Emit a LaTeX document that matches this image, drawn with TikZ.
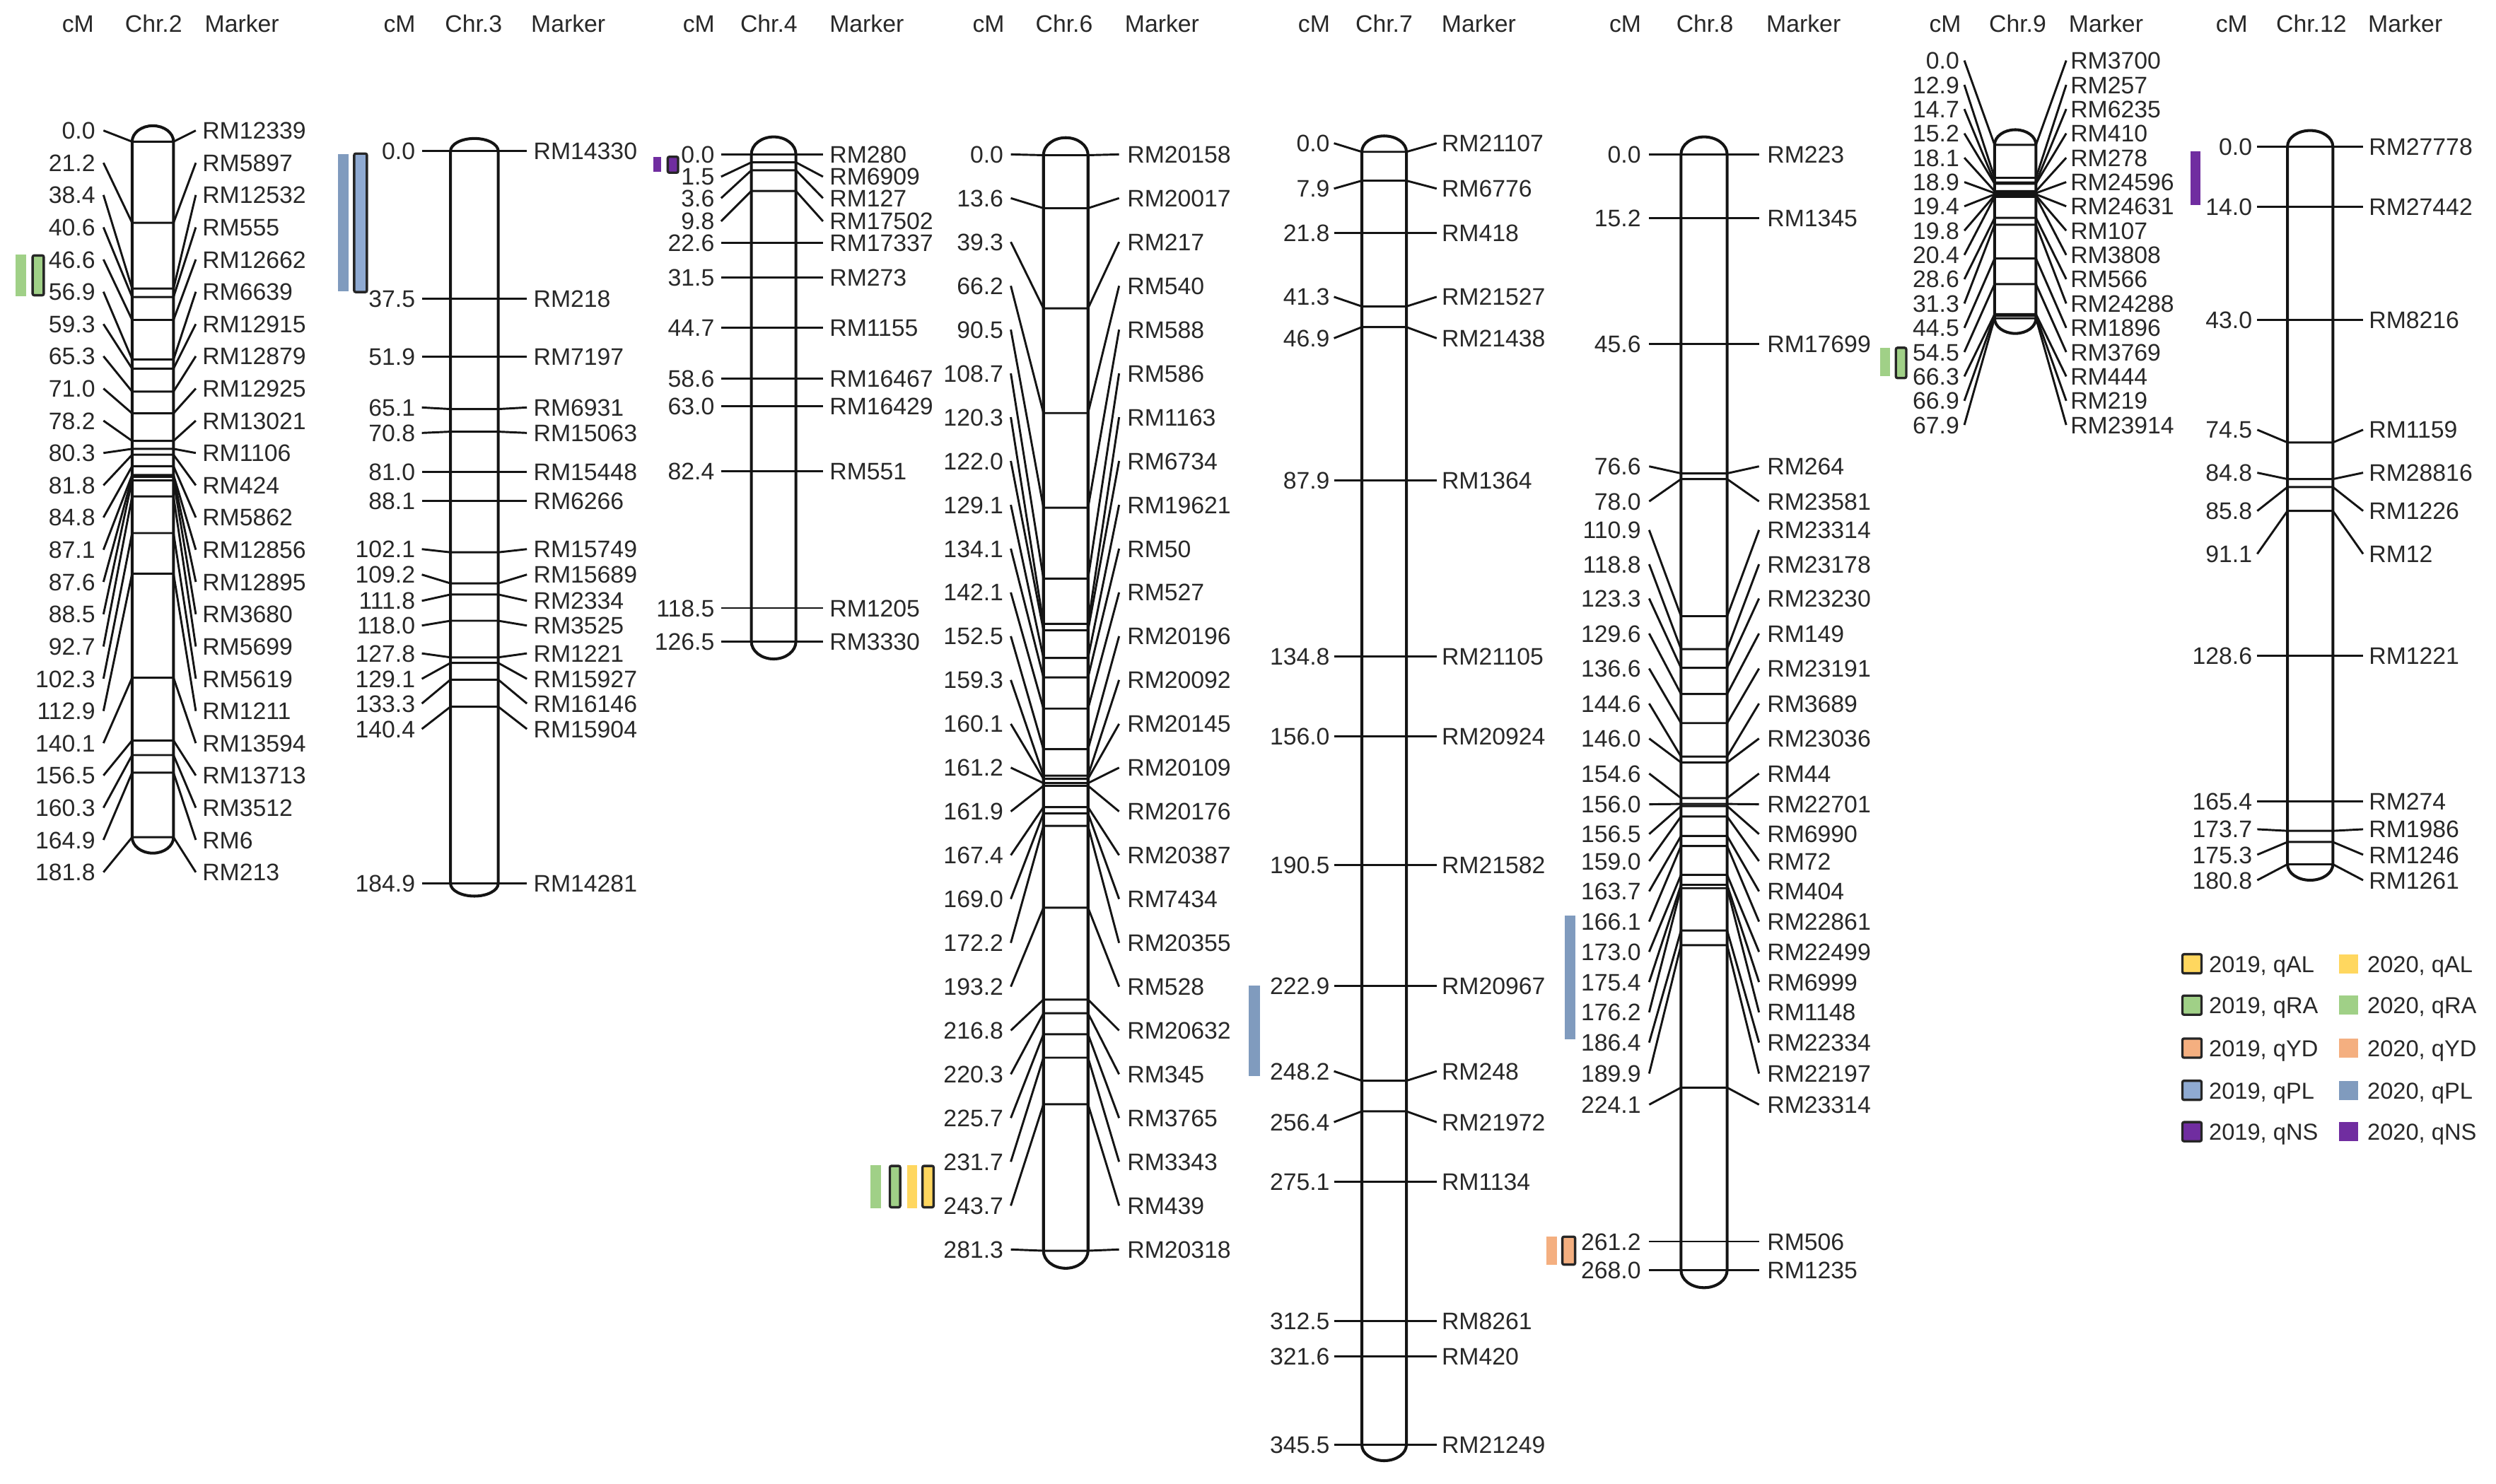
\documentclass[tikz,border=0pt]{standalone}
\usepackage{fontspec}
\setmainfont{Liberation Sans}
\definecolor{alY}{RGB}{255,215,95}
\definecolor{raG}{RGB}{160,208,135}
\definecolor{ydO}{RGB}{244,175,128}
\definecolor{plB}{RGB}{128,155,190}
\definecolor{plBb}{RGB}{143,170,210}
\definecolor{nsP}{RGB}{112,45,160}
\definecolor{txt}{RGB}{40,40,40}
\newcommand\mkr[6]{%
  \node[cml] (#1L#2) at (\cXl,#3) {#5};
  \node[mkl] (#1R#2) at (\cXm,#3) {#6};
  \coordinate (#1A#2) at (\cXb,#4);
  \coordinate (#1B#2) at (\cXc,#4);
  \draw[mline] ([xshift=\cGl]#1L#2.east) -- (#1A#2) -- (#1B#2) -- ([xshift=-\cGr]#1R#2.west);
}
\newcommand\capsl[6]{%
  \draw[caps] (#1,#3) arc[start angle=180,end angle=0,x radius=#5pt,y radius=#6pt]
    -- (#2,#4) arc[start angle=0,end angle=-180,x radius=#5pt,y radius=#6pt] -- cycle;
}
\begin{document}
\begin{tikzpicture}[x=1pt,y=-1pt,
  lab/.style={inner sep=0pt, text height=10.7pt, text depth=0pt, font=\fontsize{15}{18}\selectfont, text=txt},
  cml/.style={lab, anchor=east},
  mkl/.style={lab, anchor=west},
  hdr/.style={lab, anchor=center},
  mline/.style={line width=1.3pt, draw=black!92},
  caps/.style={line width=1.8pt, draw=black!92, fill=white},
  q19/.style={draw=black!85, line width=1.5pt, rounded corners=1pt},
  legt/.style={lab, anchor=west, font=\fontsize{14.5}{17}\selectfont}]
\fill[white] (0,0) rectangle (1568,932);
\useasboundingbox (0,0) rectangle (1568,932);

% ---------------- Chr.2
\begin{scope}
\def\cXl{60}\def\cXm{127}\def\cXb{83}\def\cXc{109}\def\cGl{5pt}\def\cGr{4pt}
\node[hdr] (c2h1) at (49,15) {cM};
\node[hdr] (c2h2) at (96.5,15) {Chr.2};
\node[hdr] (c2h3) at (152,15) {Marker};
\capsl{83}{109}{89}{526}{13}{10}
\mkr{c2}{0}{82.0}{89.0}{0.0}{RM12339}
\mkr{c2}{1}{102.3}{140.0}{21.2}{RM5897}
\mkr{c2}{2}{122.5}{181.3}{38.4}{RM12532}
\mkr{c2}{3}{142.8}{186.6}{40.6}{RM555}
\mkr{c2}{4}{163.0}{201.0}{46.6}{RM12662}
\mkr{c2}{5}{183.3}{225.8}{56.9}{RM6639}
\mkr{c2}{6}{203.6}{231.6}{59.3}{RM12915}
\mkr{c2}{7}{223.8}{246.0}{65.3}{RM12879}
\mkr{c2}{8}{244.1}{259.7}{71.0}{RM12925}
\mkr{c2}{9}{264.3}{277.0}{78.2}{RM13021}
\mkr{c2}{10}{284.6}{282.0}{80.3}{RM1106}
\mkr{c2}{11}{304.9}{285.7}{81.8}{RM424}
\mkr{c2}{12}{325.1}{292.9}{84.8}{RM5862}
\mkr{c2}{13}{345.4}{298.4}{87.1}{RM12856}
\mkr{c2}{14}{365.6}{299.6}{87.6}{RM12895}
\mkr{c2}{15}{385.9}{301.8}{88.5}{RM3680}
\mkr{c2}{16}{406.2}{311.9}{92.7}{RM5699}
\mkr{c2}{17}{426.4}{334.9}{102.3}{RM5619}
\mkr{c2}{18}{446.7}{360.4}{112.9}{RM1211}
\mkr{c2}{19}{466.9}{425.8}{140.1}{RM13594}
\mkr{c2}{20}{487.2}{465.2}{156.5}{RM13713}
\mkr{c2}{21}{507.5}{474.4}{160.3}{RM3512}
\mkr{c2}{22}{527.7}{485.4}{164.9}{RM6}
\mkr{c2}{23}{548.0}{526.0}{181.8}{RM213}
\fill[raG] (9.6,160) rectangle (16.3,186);
\filldraw[q19, fill=raG] (20.5,160.5) rectangle (27.5,185.5);
\end{scope}

% ---------------- Chr.3
\begin{scope}
\def\cXl{261}\def\cXm{335}\def\cXb{283}\def\cXc{313}\def\cGl{4pt}\def\cGr{4pt}
\node[hdr] (c3h1) at (251,15) {cM};
\node[hdr] (c3h2) at (297.5,15) {Chr.3};
\node[hdr] (c3h3) at (357,15) {Marker};
\capsl{283}{313}{95}{555}{15}{8}
\mkr{c3}{0}{95}{95}{0.0}{RM14330}
\mkr{c3}{1}{187.5}{187.5}{37.5}{RM218}
\mkr{c3}{2}{224}{224}{51.9}{RM7197}
\mkr{c3}{3}{256}{257}{65.1}{RM6931}
\mkr{c3}{4}{272}{271.2}{70.8}{RM15063}
\mkr{c3}{5}{296.5}{296.5}{81.0}{RM15448}
\mkr{c3}{6}{314.5}{314.5}{88.1}{RM6266}
\mkr{c3}{7}{345}{347}{102.1}{RM15749}
\mkr{c3}{8}{361}{366.5}{109.2}{RM15689}
\mkr{c3}{9}{377.5}{373.5}{111.8}{RM2334}
\mkr{c3}{10}{393}{390}{118.0}{RM3525}
\mkr{c3}{11}{410.5}{413}{127.8}{RM1221}
\mkr{c3}{12}{426.5}{416.5}{129.1}{RM15927}
\mkr{c3}{13}{442}{427}{133.3}{RM16146}
\mkr{c3}{14}{458}{444}{140.4}{RM15904}
\mkr{c3}{15}{555}{555}{184.9}{RM14281}
\fill[plB] (212.5,97) rectangle (219,183);
\filldraw[q19, fill=plBb] (222.5,96.5) rectangle (230.5,183.5);
\end{scope}

% ---------------- Chr.4
\begin{scope}
\def\cXl{449}\def\cXm{521}\def\cXb{472}\def\cXc{500}\def\cGl{4pt}\def\cGr{4pt}
\node[hdr] (c4h1) at (439,15) {cM};
\node[hdr] (c4h2) at (483,15) {Chr.4};
\node[hdr] (c4h3) at (544.5,15) {Marker};
\capsl{472}{500}{97}{403}{14}{11}
\mkr{c4}{0}{97}{97}{0.0}{RM280}
\mkr{c4}{1}{111}{102}{1.5}{RM6909}
\mkr{c4}{2}{124.5}{107}{3.6}{RM127}
\mkr{c4}{3}{139}{120}{9.8}{RM17502}
\mkr{c4}{4}{152.5}{152.5}{22.6}{RM17337}
\mkr{c4}{5}{174.5}{174.5}{31.5}{RM273}
\mkr{c4}{6}{206}{206}{44.7}{RM1155}
\mkr{c4}{7}{238}{238}{58.6}{RM16467}
\mkr{c4}{8}{255}{255}{63.0}{RM16429}
\mkr{c4}{9}{296}{296}{82.4}{RM551}
\mkr{c4}{10}{382}{382}{118.5}{RM1205}
\mkr{c4}{11}{403}{403}{126.5}{RM3330}
\fill[nsP] (410.5,98.5) rectangle (415.5,108);
\filldraw[q19, fill=nsP] (419.5,98.5) rectangle (426,108.5);
\end{scope}

% ---------------- Chr.6
\begin{scope}
\def\cXl{630.5}\def\cXm{708}\def\cXb{655.5}\def\cXc{683.5}\def\cGl{4.5pt}\def\cGr{5pt}
\node[hdr] (c6h1) at (621,15) {cM};
\node[hdr] (c6h2) at (668.5,15) {Chr.6};
\node[hdr] (c6h3) at (730,15) {Marker};
\capsl{655.5}{683.5}{97.5}{785.8}{14}{11}
\mkr{c6}{0}{97.0}{97.5}{0.0}{RM20158}
\mkr{c6}{1}{124.5}{130.8}{13.6}{RM20017}
\mkr{c6}{2}{152.0}{193.7}{39.3}{RM217}
\mkr{c6}{3}{179.6}{259.5}{66.2}{RM540}
\mkr{c6}{4}{207.1}{319.0}{90.5}{RM588}
\mkr{c6}{5}{234.6}{363.5}{108.7}{RM586}
\mkr{c6}{6}{262.1}{391.9}{120.3}{RM1163}
\mkr{c6}{7}{289.6}{396.0}{122.0}{RM6734}
\mkr{c6}{8}{317.2}{413.4}{129.1}{RM19621}
\mkr{c6}{9}{344.7}{425.6}{134.1}{RM50}
\mkr{c6}{10}{372.2}{445.2}{142.1}{RM527}
\mkr{c6}{11}{399.7}{470.7}{152.5}{RM20196}
\mkr{c6}{12}{427.2}{487.3}{159.3}{RM20092}
\mkr{c6}{13}{454.8}{489.3}{160.1}{RM20145}
\mkr{c6}{14}{482.3}{492.0}{161.2}{RM20109}
\mkr{c6}{15}{509.8}{493.7}{161.9}{RM20176}
\mkr{c6}{16}{537.3}{507.1}{167.4}{RM20387}
\mkr{c6}{17}{564.8}{511.0}{169.0}{RM7434}
\mkr{c6}{18}{592.4}{518.9}{172.2}{RM20355}
\mkr{c6}{19}{619.9}{570.3}{193.2}{RM528}
\mkr{c6}{20}{647.4}{628.0}{216.8}{RM20632}
\mkr{c6}{21}{674.9}{636.6}{220.3}{RM345}
\mkr{c6}{22}{702.4}{649.8}{225.7}{RM3765}
\mkr{c6}{23}{729.9}{664.5}{231.7}{RM3343}
\mkr{c6}{24}{757.5}{693.8}{243.7}{RM439}
\mkr{c6}{25}{785.0}{785.8}{281.3}{RM20318}
\fill[raG] (547,732) rectangle (553.5,759);
\filldraw[q19, fill=raG] (559,732.5) rectangle (565.5,758.5);
\fill[alY] (570,732) rectangle (576,759);
\filldraw[q19, fill=alY] (579.5,732.5) rectangle (586.5,758.5);
\end{scope}

% ---------------- Chr.7
\begin{scope}
\def\cXl{835.5}\def\cXm{905.5}\def\cXb{855.5}\def\cXc{883.5}\def\cGl{2.5pt}\def\cGr{3pt}
\node[hdr] (c7h1) at (825.5,15) {cM};
\node[hdr] (c7h2) at (869.5,15) {Chr.7};
\node[hdr] (c7h3) at (929,15) {Marker};
\capsl{855.5}{883.5}{95.4}{907.7}{14}{10}
\mkr{c7}{0}{90}{95.4}{0.0}{RM21107}
\mkr{c7}{1}{118.5}{113.5}{7.9}{RM6776}
\mkr{c7}{2}{146.5}{146.5}{21.8}{RM418}
\mkr{c7}{3}{186.5}{192.5}{41.3}{RM21527}
\mkr{c7}{4}{212.5}{205.5}{46.9}{RM21438}
\mkr{c7}{5}{302}{302}{87.9}{RM1364}
\mkr{c7}{6}{412.3}{412.3}{134.8}{RM21105}
\mkr{c7}{7}{462.5}{462.5}{156.0}{RM20924}
\mkr{c7}{8}{543.5}{543.5}{190.5}{RM21582}
\mkr{c7}{9}{619.5}{619.5}{222.9}{RM20967}
\mkr{c7}{10}{673}{679}{248.2}{RM248}
\mkr{c7}{11}{705}{698.2}{256.4}{RM21972}
\mkr{c7}{12}{742.5}{742.5}{275.1}{RM1134}
\mkr{c7}{13}{830}{830}{312.5}{RM8261}
\mkr{c7}{14}{852}{852}{321.6}{RM420}
\mkr{c7}{15}{907.7}{907.7}{345.5}{RM21249}
\fill[plB] (784.5,619) rectangle (791.5,676);
\end{scope}

% ---------------- Chr.8
\begin{scope}
\def\cXl{1031}\def\cXm{1110}\def\cXb{1056}\def\cXc{1085}\def\cGl{5pt}\def\cGr{5pt}
\node[hdr] (c8h1) at (1021,15) {cM};
\node[hdr] (c8h2) at (1071,15) {Chr.8};
\node[hdr] (c8h3) at (1133,15) {Marker};
\capsl{1056}{1085}{97}{798}{14.5}{11}
\mkr{c8}{0}{97}{97}{0.0}{RM223}
\mkr{c8}{1}{137}{137}{15.2}{RM1345}
\mkr{c8}{2}{216}{216}{45.6}{RM17699}
\mkr{c8}{3}{293}{297.4}{76.6}{RM264}
\mkr{c8}{4}{315}{301}{78.0}{RM23581}
\mkr{c8}{5}{333}{387.1}{110.9}{RM23314}
\mkr{c8}{6}{354.5}{407.8}{118.8}{RM23178}
\mkr{c8}{7}{376}{419.6}{123.3}{RM23230}
\mkr{c8}{8}{398}{436.0}{129.6}{RM149}
\mkr{c8}{9}{420}{454.3}{136.6}{RM23191}
\mkr{c8}{10}{442}{475.3}{144.6}{RM3689}
\mkr{c8}{11}{464}{479.0}{146.0}{RM23036}
\mkr{c8}{12}{486}{501.4}{154.6}{RM44}
\mkr{c8}{13}{505.3}{505.1}{156.0}{RM22701}
\mkr{c8}{14}{524}{506.4}{156.5}{RM6990}
\mkr{c8}{15}{541}{513.0}{159.0}{RM72}
\mkr{c8}{16}{560}{525.2}{163.7}{RM404}
\mkr{c8}{17}{579}{531.5}{166.1}{RM22861}
\mkr{c8}{18}{598}{549.6}{173.0}{RM22499}
\mkr{c8}{19}{617}{555.9}{175.4}{RM6999}
\mkr{c8}{20}{636}{558.0}{176.2}{RM1148}
\mkr{c8}{21}{655}{584.6}{186.4}{RM22334}
\mkr{c8}{22}{674.5}{593.8}{189.9}{RM22197}
\mkr{c8}{23}{694}{683.3}{224.1}{RM23314}
\mkr{c8}{24}{780}{780}{261.2}{RM506}
\mkr{c8}{25}{798}{798}{268.0}{RM1235}
\fill[plB] (983,575) rectangle (989.5,653);
\fill[ydO] (971.5,777) rectangle (978,794.5);
\filldraw[q19, fill=ydO] (981.5,777) rectangle (989.5,794.5);
\end{scope}

% ---------------- Chr.9
\begin{scope}
\def\cXl{1231}\def\cXm{1300.5}\def\cXb{1253}\def\cXc{1279}\def\cGl{3pt}\def\cGr{2.5pt}
\node[hdr] (c9h1) at (1222,15) {cM};
\node[hdr] (c9h2) at (1267.5,15) {Chr.9};
\node[hdr] (c9h3) at (1323,15) {Marker};
\capsl{1253}{1279}{91}{200}{13}{9.5}
\mkr{c9}{0}{38.0}{91.0}{0.0}{RM3700}
\mkr{c9}{1}{53.3}{111.7}{12.9}{RM257}
\mkr{c9}{2}{68.5}{114.6}{14.7}{RM6235}
\mkr{c9}{3}{83.8}{115.4}{15.2}{RM410}
\mkr{c9}{4}{99.1}{120.1}{18.1}{RM278}
\mkr{c9}{5}{114.4}{121.3}{18.9}{RM24596}
\mkr{c9}{6}{129.6}{122.1}{19.4}{RM24631}
\mkr{c9}{7}{144.9}{122.8}{19.8}{RM107}
\mkr{c9}{8}{160.2}{123.7}{20.4}{RM3808}
\mkr{c9}{9}{175.4}{136.9}{28.6}{RM566}
\mkr{c9}{10}{190.7}{141.2}{31.3}{RM24288}
\mkr{c9}{11}{206.0}{162.4}{44.5}{RM1896}
\mkr{c9}{12}{221.2}{178.5}{54.5}{RM3769}
\mkr{c9}{13}{236.5}{197.4}{66.3}{RM444}
\mkr{c9}{14}{251.8}{198.4}{66.9}{RM219}
\mkr{c9}{15}{267.0}{200.0}{67.9}{RM23914}
\fill[raG] (1181,218.5) rectangle (1187.5,236.5);
\filldraw[q19, fill=raG] (1191,218.5) rectangle (1197.5,237.5);
\end{scope}

% ---------------- Chr.12
\begin{scope}
\def\cXl{1415}\def\cXm{1488}\def\cXb{1437}\def\cXc{1465.5}\def\cGl{3pt}\def\cGr{3.5pt}
\node[hdr] (c12h1) at (1402,15) {cM};
\node[hdr] (c12h2) at (1452,15) {Chr.12};
\node[hdr] (c12h3) at (1511,15) {Marker};
\capsl{1437}{1465.5}{92}{543}{14.25}{10}
\mkr{c12}{0}{92}{92}{0.0}{RM27778}
\mkr{c12}{1}{130}{130}{14.0}{RM27442}
\mkr{c12}{2}{201}{201}{43.0}{RM8216}
\mkr{c12}{3}{270}{278}{74.5}{RM1159}
\mkr{c12}{4}{297}{301}{84.8}{RM28816}
\mkr{c12}{5}{321}{306}{85.8}{RM1226}
\mkr{c12}{6}{348}{321}{91.1}{RM12}
\mkr{c12}{7}{412}{412}{128.6}{RM1221}
\mkr{c12}{8}{503.5}{503.5}{165.4}{RM274}
\mkr{c12}{9}{521}{522}{173.7}{RM1986}
\mkr{c12}{10}{537}{529}{175.3}{RM1246}
\mkr{c12}{11}{553}{543}{180.8}{RM1261}
\fill[nsP] (1376,95) rectangle (1382.5,129);
\end{scope}

% ---------------- Legend
\filldraw[q19, fill=alY] (1371,599.5) rectangle (1383,611.5);
\node[legt] (lg1a) at (1387.5,605.5) {2019, qAL};
\fill[alY] (1469.5,599.5) rectangle (1481.5,611.5);
\node[legt] (lg1b) at (1487,605.5) {2020, qAL};
\filldraw[q19, fill=raG] (1371,625.5) rectangle (1383,637.5);
\node[legt] (lg2a) at (1387.5,631.5) {2019, qRA};
\fill[raG] (1469.5,625.5) rectangle (1481.5,637.5);
\node[legt] (lg2b) at (1487,631.5) {2020, qRA};
\filldraw[q19, fill=ydO] (1371,652.5) rectangle (1383,664.5);
\node[legt] (lg3a) at (1387.5,658.5) {2019, qYD};
\fill[ydO] (1469.5,652.5) rectangle (1481.5,664.5);
\node[legt] (lg3b) at (1487,658.5) {2020, qYD};
\filldraw[q19, fill=plBb] (1371,679) rectangle (1383,691);
\node[legt] (lg4a) at (1387.5,685) {2019, qPL};
\fill[plB] (1469.5,679) rectangle (1481.5,691);
\node[legt] (lg4b) at (1487,685) {2020, qPL};
\filldraw[q19, fill=nsP] (1371,705) rectangle (1383,717);
\node[legt] (lg5a) at (1387.5,711) {2019, qNS};
\fill[nsP] (1469.5,705) rectangle (1481.5,717);
\node[legt] (lg5b) at (1487,711) {2020, qNS};
\end{tikzpicture}
\end{document}
